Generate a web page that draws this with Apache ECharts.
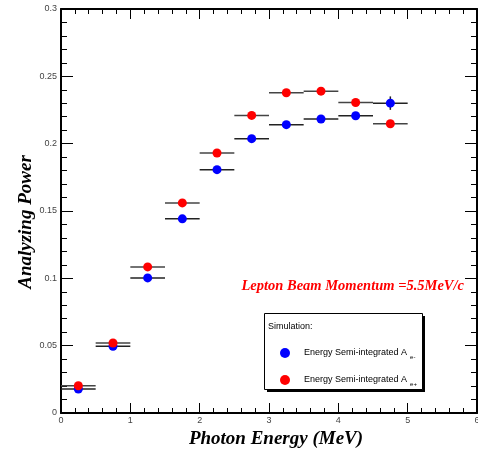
<!DOCTYPE html>
<html>
<head>
<meta charset="utf-8">
<script src="https://cdn.jsdelivr.net/npm/echarts@6/dist/echarts.min.js"></script>
<style>
  html, body { margin: 0; padding: 0; background: #fff; }
  #main { width: 478px; height: 449px; }
</style>
</head>
<body>
<div id="main"></div>
<script>
// bin centres (MeV) and half width
var energy = [0.25, 0.75, 1.25, 1.75, 2.25, 2.75, 3.25, 3.75, 4.25, 4.75];
var binHalf = 0.25;
// analyzing power, e- and e+
var apElectron = [0.0178, 0.0496, 0.1003, 0.1442, 0.1807, 0.2037, 0.2141, 0.2183, 0.2207, 0.2301];
var apPositron = [0.0202, 0.0520, 0.1085, 0.1560, 0.1931, 0.2210, 0.2378, 0.2390, 0.2306, 0.2148];
// vertical errors (only visible for the last e- point)
var errElectron = [0, 0, 0, 0, 0, 0, 0, 0, 0, 0.005];
var errPositron = [0, 0, 0, 0, 0, 0, 0, 0, 0, 0];

var myChart = echarts.init(document.getElementById('main'));

function pairs(ys, errs) {
    return energy.map(function (x, i) { return [x, ys[i], errs[i]]; });
}

function errRender(color) {
    return function (params, api) {
        var x = api.value(0), y = api.value(1), e = api.value(2);
        var l = api.coord([x - binHalf, y]);
        var r = api.coord([x + binHalf, y]);
        var kids = [{
            type: 'line',
            shape: { x1: l[0], y1: l[1], x2: r[0], y2: r[1] },
            style: { stroke: color, lineWidth: 1.5 }
        }];
        if (e > 0) {
            var t = api.coord([x, y + e]);
            var b = api.coord([x, y - e]);
            kids.push({
                type: 'line',
                shape: { x1: t[0], y1: t[1], x2: b[0], y2: b[1] },
                style: { stroke: color, lineWidth: 1.5 }
            });
        }
        return { type: 'group', children: kids };
    };
}

var labelFont = { fontFamily: 'Liberation Sans', fontSize: 9, color: '#444' };
var titleFont = 'Liberation Serif';

function frameAxis(extra) {
    return Object.assign({
        axisLine: { show: true, onZero: false, lineStyle: { color: '#000', width: 2 } },
        axisTick: { show: true, inside: true, length: 10, lineStyle: { color: '#000' } },
        minorTick: { show: true, splitNumber: 5, length: 5, lineStyle: { color: '#000' } },
        splitLine: { show: false }
    }, extra);
}

var option = {
    animation: false,
    grid: { left: 61, right: 1, top: 9, bottom: 36, outerBoundsMode: 'none' },
    xAxis: [frameAxis({
        type: 'value', min: 0, max: 6, interval: 1,
        position: 'bottom',
        axisLabel: Object.assign({ margin: 3 }, labelFont),
        name: 'Photon Energy (MeV)',
        nameLocation: 'middle',
        nameGap: 17,
        nameMoveOverlap: false,
        nameTextStyle: { fontFamily: titleFont, fontStyle: 'italic', fontWeight: 'bold', fontSize: 19, color: '#000', padding: [0, 0, 0, 14] }
    }), frameAxis({
        type: 'value', min: 0, max: 6, interval: 1,
        position: 'top',
        axisLabel: { show: false }
    })],
    yAxis: [frameAxis({
        type: 'value', min: 0, max: 0.3, interval: 0.05,
        position: 'left',
        axisTick: { show: true, inside: true, length: 12, lineStyle: { color: '#000' } },
        minorTick: { show: true, splitNumber: 5, length: 6, lineStyle: { color: '#000' } },
        axisLabel: Object.assign({ margin: 4 }, labelFont),
        name: 'Analyzing Power',
        nameLocation: 'middle',
        nameGap: 25,
        nameMoveOverlap: false,
        nameTextStyle: { fontFamily: titleFont, fontStyle: 'italic', fontWeight: 'bold', fontSize: 19, color: '#000', padding: [0, 22, 0, 0] }
    }), frameAxis({
        type: 'value', min: 0, max: 0.3, interval: 0.05,
        position: 'right',
        axisTick: { show: true, inside: true, length: 12, lineStyle: { color: '#000' } },
        minorTick: { show: true, splitNumber: 5, length: 6, lineStyle: { color: '#000' } },
        axisLabel: { show: false }
    })],
    legend: {
        data: ['e-', 'e+'],
        orient: 'vertical',
        left: 275, top: 343,
        itemGap: 15,
        itemWidth: 10, itemHeight: 10,
        icon: 'circle',
        formatter: function (name) {
            return '{a|Energy Semi-integrated A}{s|' + name + '}';
        },
        textStyle: {
            rich: {
                a: { fontFamily: 'Liberation Sans', fontSize: 9, color: '#000', padding: [0, 0, 0, 9] },
                s: { fontFamily: 'Liberation Sans', fontSize: 6, color: '#000', verticalAlign: 'bottom', padding: [8, 0, 0, 3] }
            }
        }
    },
    graphic: [{
        type: 'rect', left: 267, top: 316, shape: { width: 158, height: 76 },
        style: { fill: '#000' }, z: 0
    }, {
        type: 'rect', left: 264, top: 313, shape: { width: 158, height: 76 },
        style: { fill: '#fff', stroke: '#000', lineWidth: 1 }, z: 1
    }, {
        type: 'text', left: 268, top: 322, z: 2,
        style: { text: 'Simulation:', fontFamily: 'Liberation Sans', fontSize: 9, fill: '#000' }
    }, {
        type: 'text', right: 14, top: 279, z: 2,
        style: {
            text: 'Lepton Beam Momentum =5.5MeV/c',
            fontFamily: titleFont, fontStyle: 'italic', fontWeight: 'bold', fontSize: 14.5, fill: '#f00'
        }
    }],
    series: [{
        name: 'err-', type: 'custom', renderItem: errRender('#222'),
        data: pairs(apElectron, errElectron), z: 1
    }, {
        name: 'err+', type: 'custom', renderItem: errRender('#444'),
        data: pairs(apPositron, errPositron), z: 1
    }, {
        name: 'e-', type: 'scatter', symbol: 'circle', symbolSize: 9,
        itemStyle: { color: '#0000ff', opacity: 1 },
        data: pairs(apElectron, errElectron), z: 3
    }, {
        name: 'e+', type: 'scatter', symbol: 'circle', symbolSize: 9,
        itemStyle: { color: '#ff0000', opacity: 1 },
        data: pairs(apPositron, errPositron), z: 4
    }]
};

myChart.setOption(option);
</script>
</body>
</html>
